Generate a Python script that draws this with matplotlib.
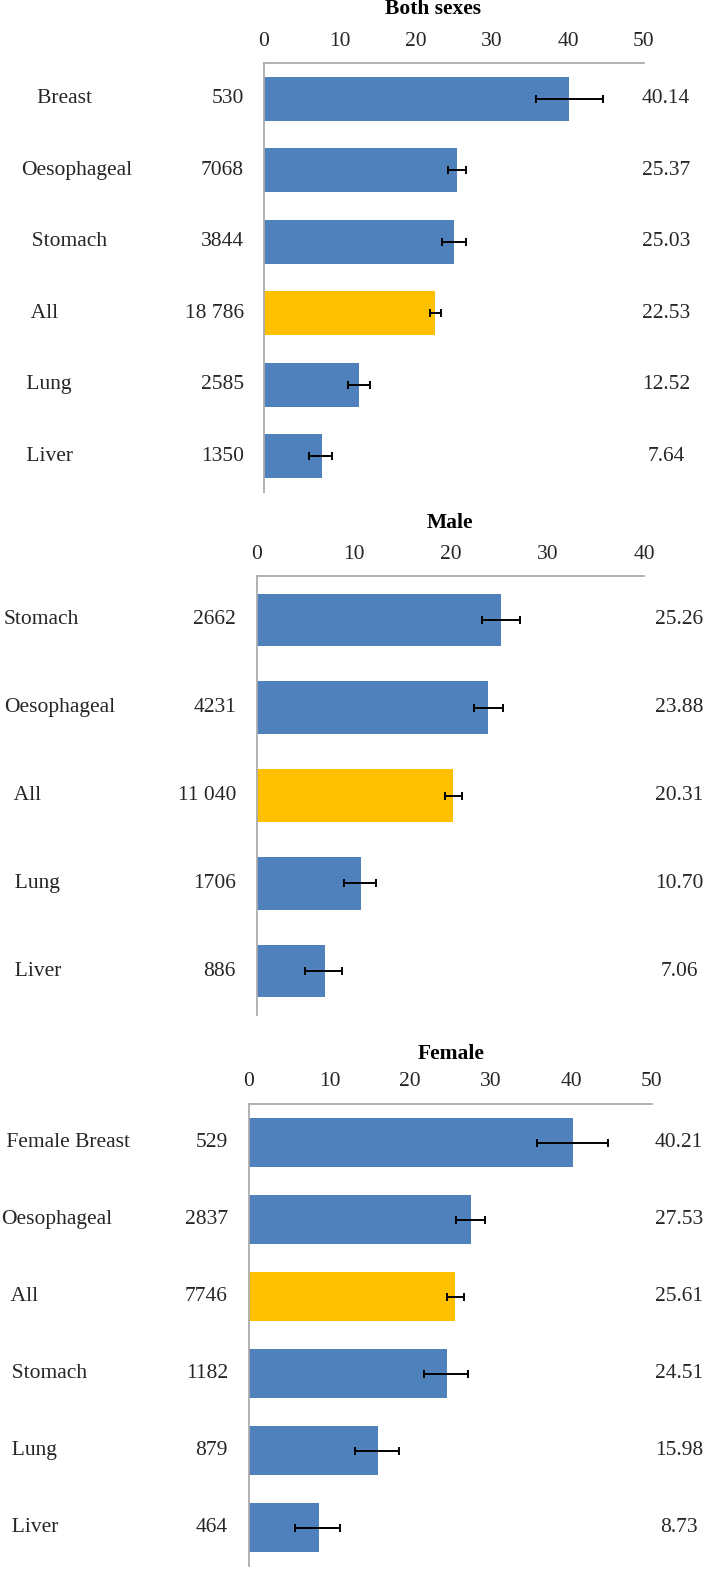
import matplotlib
matplotlib.use("Agg")
import matplotlib.pyplot as plt
import matplotlib.transforms as mtransforms

plt.rcParams['font.family'] = ['Liberation Serif', 'DejaVu Serif']

# ---------------- data ----------------
both_title = "Both sexes"
both_cats = ["   Breast", "Oesophageal", "  Stomach", "  All", " Lung", " Liver"]
both_counts = ["530", "7068", "3844", "18 786", "2585", "1350"]
both_values = [40.14, 25.37, 25.03, 22.53, 12.52, 7.64]
both_lower = [35.8, 24.2, 23.4, 21.8, 11.1, 5.9]
both_upper = [44.6, 26.6, 26.6, 23.3, 13.9, 9.0]
both_highlight = [False, False, False, True, False, False]
both_xticks = [0, 10, 20, 30, 40, 50]

male_title = "Male"
male_cats = ["Stomach", "Oesophageal", "  All", "  Lung", "  Liver"]
male_counts = ["2662", "4231", "11 040", "1706", "886"]
male_values = [25.26, 23.88, 20.31, 10.70, 7.06]
male_lower = [23.3, 22.4, 19.4, 9.0, 5.0]
male_upper = [27.2, 25.4, 21.2, 12.3, 8.8]
male_highlight = [False, False, True, False, False]
male_xticks = [0, 10, 20, 30, 40]

female_title = "Female"
female_cats = [" Female Breast", "Oesophageal", "  All", "  Stomach", "  Lung", "  Liver"]
female_counts = ["529", "2837", "7746", "1182", "879", "464"]
female_values = [40.21, 27.53, 25.61, 24.51, 15.98, 8.73]
female_lower = [35.7, 25.7, 24.6, 21.7, 13.2, 5.7]
female_upper = [44.6, 29.3, 26.7, 27.2, 18.6, 11.3]
female_highlight = [False, False, True, False, False, False]
female_xticks = [0, 10, 20, 30, 40, 50]

# ---------------- style / layout ----------------
W, H = 709, 1569
BLUE = "#4F81BD"
GOLD = "#FFC000"
SPINE = "#ABABAB"
TXT = "#262626"
FS = 15.5

fig = plt.figure(figsize=(W / 100, H / 100), dpi=100)


def fx(px):
    return px / W


def fy(py):
    return 1 - py / H


def panel(box, title, title_xy, cats, counts, values, lower, upper, highlight,
          xticks, label_x, count_x, value_x, bar_h):
    left, right, top, bottom = box
    ax = fig.add_axes([fx(left), fy(bottom), fx(right) - fx(left), fy(top) - fy(bottom)])
    n = len(values)
    ypos = list(range(n))
    colors = [GOLD if h else BLUE for h in highlight]
    ax.barh(ypos, values, height=bar_h, color=colors, zorder=2)
    xerr = [[v - lo for v, lo in zip(values, lower)],
            [up - v for v, up in zip(values, upper)]]
    ax.errorbar(values, ypos, xerr=xerr, fmt='none', ecolor='black',
                elinewidth=1.4, capsize=3.2, capthick=1.4, zorder=3)
    ax.set_xlim(xticks[0], xticks[-1])
    ax.set_ylim(n - 0.5, -0.5)
    ax.xaxis.tick_top()
    ax.set_xticks(xticks)
    ax.set_xticklabels([str(t) for t in xticks], fontsize=FS, color=TXT)
    ax.tick_params(axis='x', length=0, pad=9)
    ax.set_yticks([])
    for s in ['right', 'bottom']:
        ax.spines[s].set_visible(False)
    for s in ['top', 'left']:
        ax.spines[s].set_color(SPINE)
        ax.spines[s].set_linewidth(1.3)
    trans = mtransforms.blended_transform_factory(fig.transFigure, ax.transData)
    for i in range(n):
        ax.text(fx(label_x), ypos[i], cats[i], transform=trans, ha='left', va='center',
                fontsize=FS, color=TXT)
        ax.text(fx(count_x), ypos[i], counts[i], transform=trans, ha='right', va='center',
                fontsize=FS, color=TXT)
        ax.text(fx(value_x), ypos[i], f"{values[i]:.2f}", transform=trans, ha='center',
                va='center', fontsize=FS, color=TXT)
    fig.text(fx(title_xy[0]), fy(title_xy[1]), title, ha='center', va='center',
             fontsize=FS, fontweight='bold')
    return ax


panel((264, 644, 63, 492), both_title, (433, 9), both_cats, both_counts, both_values,
      both_lower, both_upper, both_highlight, both_xticks, 21, 244, 666, 0.62)
panel((257, 644, 576, 1015), male_title, (450, 523), male_cats, male_counts, male_values,
      male_lower, male_upper, male_highlight, male_xticks, 4, 236, 679, 0.60)
panel((249, 652, 1104, 1566), female_title, (451, 1054), female_cats, female_counts,
      female_values, female_lower, female_upper, female_highlight, female_xticks,
      1, 228, 679, 0.64)

fig.savefig("out.png", dpi=100)
